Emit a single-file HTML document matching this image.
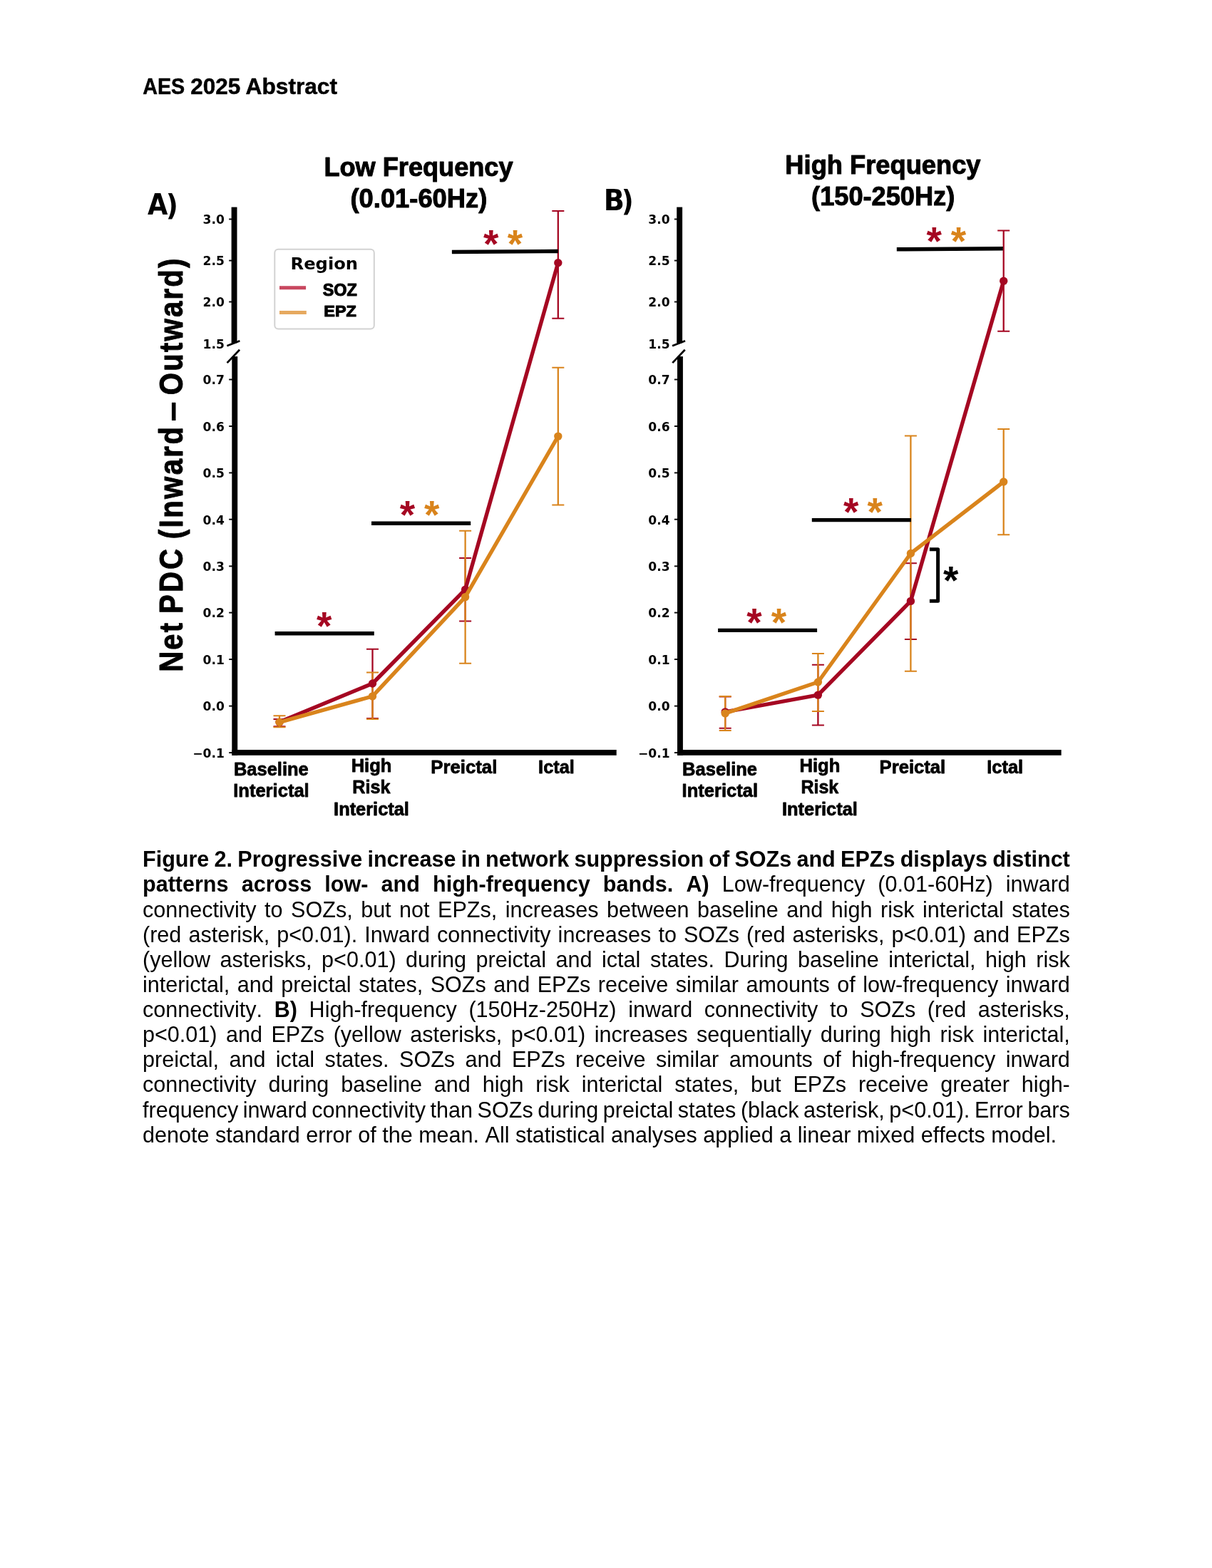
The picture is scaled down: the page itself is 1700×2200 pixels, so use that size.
<!DOCTYPE html>
<html lang="en"><head><meta charset="utf-8"><title>AES 2025 Abstract</title>
<style>
html,body{margin:0;padding:0;background:#fff}
body{width:1700px;height:2200px;position:relative;overflow:hidden;font-family:"Liberation Sans",sans-serif;color:#000}
#cap{position:absolute;left:200px;top:1188.3px;width:1300px;font-size:30.556px;line-height:35.14px;font-kerning:none}
.ln{white-space:nowrap;height:35.14px}
</style></head><body>
<svg width="1700" height="1170" viewBox="0 0 1700 1170" style="position:absolute;left:0;top:0;font-kerning:none">
<text font-family="'Liberation Sans',sans-serif" font-weight="bold" font-size="30.8" stroke="#000" stroke-width="0.5" stroke-linejoin="round"><tspan x="200.23" y="131.9" textLength="59.04" lengthAdjust="spacingAndGlyphs">AES</tspan> <tspan x="267.36" y="131.9" textLength="69.97" lengthAdjust="spacingAndGlyphs">2025</tspan> <tspan x="344.56" y="131.9" textLength="128.48" lengthAdjust="spacingAndGlyphs">Abstract</tspan></text>
<rect x="324.6" y="290.6" width="7.9" height="190.7"/><rect x="325.3" y="500.1" width="7.9" height="559.7"/><rect x="325.3" y="1052" width="539.4" height="7.8"/><path d="M318.35 485.2L336.35 478.3" stroke="#000" stroke-width="2.7"/><path d="M318.55 509.1L336.05 490.8" stroke="#000" stroke-width="2.7"/><path d="M321.2 307.5H326.3" stroke="#000" stroke-width="1.9"/><text x="314.8" y="314.3" text-anchor="end" font-family="'DejaVu Sans',sans-serif" font-weight="bold" font-size="17.1">3.0</text>
<path d="M321.2 365.6H326.3" stroke="#000" stroke-width="1.9"/><text x="314.8" y="372.4" text-anchor="end" font-family="'DejaVu Sans',sans-serif" font-weight="bold" font-size="17.1">2.5</text>
<path d="M321.2 423.5H326.3" stroke="#000" stroke-width="1.9"/><text x="314.8" y="430.3" text-anchor="end" font-family="'DejaVu Sans',sans-serif" font-weight="bold" font-size="17.1">2.0</text>
<text x="314.8" y="488.8" text-anchor="end" font-family="'DejaVu Sans',sans-serif" font-weight="bold" font-size="17.1">1.5</text>
<path d="M321.2 532.5H326.3" stroke="#000" stroke-width="1.9"/><text x="314.8" y="539.3" text-anchor="end" font-family="'DejaVu Sans',sans-serif" font-weight="bold" font-size="17.1">0.7</text>
<path d="M321.2 598H326.3" stroke="#000" stroke-width="1.9"/><text x="314.8" y="604.8" text-anchor="end" font-family="'DejaVu Sans',sans-serif" font-weight="bold" font-size="17.1">0.6</text>
<path d="M321.2 663.4H326.3" stroke="#000" stroke-width="1.9"/><text x="314.8" y="670.2" text-anchor="end" font-family="'DejaVu Sans',sans-serif" font-weight="bold" font-size="17.1">0.5</text>
<path d="M321.2 728.7H326.3" stroke="#000" stroke-width="1.9"/><text x="314.8" y="735.5" text-anchor="end" font-family="'DejaVu Sans',sans-serif" font-weight="bold" font-size="17.1">0.4</text>
<path d="M321.2 794.4H326.3" stroke="#000" stroke-width="1.9"/><text x="314.8" y="801.2" text-anchor="end" font-family="'DejaVu Sans',sans-serif" font-weight="bold" font-size="17.1">0.3</text>
<path d="M321.2 859.6H326.3" stroke="#000" stroke-width="1.9"/><text x="314.8" y="866.4" text-anchor="end" font-family="'DejaVu Sans',sans-serif" font-weight="bold" font-size="17.1">0.2</text>
<path d="M321.2 925.1H326.3" stroke="#000" stroke-width="1.9"/><text x="314.8" y="931.9" text-anchor="end" font-family="'DejaVu Sans',sans-serif" font-weight="bold" font-size="17.1">0.1</text>
<path d="M321.2 990.6H326.3" stroke="#000" stroke-width="1.9"/><text x="314.8" y="997.4" text-anchor="end" font-family="'DejaVu Sans',sans-serif" font-weight="bold" font-size="17.1">0.0</text>
<path d="M321.2 1056.1H326.3" stroke="#000" stroke-width="1.9"/><text x="314.8" y="1062.9" text-anchor="end" font-family="'DejaVu Sans',sans-serif" font-weight="bold" font-size="17.1">−0.1</text>

<path d="M392 1008.9V1019.3" stroke="#A50722" stroke-width="2.3" fill="none"/><path d="M383.5 1008.9H400.5M383.5 1019.3H400.5" stroke="#A50722" stroke-width="2" fill="none"/>
<path d="M522.5 910.8V1008" stroke="#A50722" stroke-width="2.3" fill="none"/><path d="M514 910.8H531M514 1008H531" stroke="#A50722" stroke-width="2" fill="none"/>
<path d="M652.6 783V871.5" stroke="#A50722" stroke-width="2.3" fill="none"/><path d="M644.1 783H661.1M644.1 871.5H661.1" stroke="#A50722" stroke-width="2" fill="none"/>
<path d="M782.8 296V446.8" stroke="#A50722" stroke-width="2.3" fill="none"/><path d="M774.3 296H791.3M774.3 446.8H791.3" stroke="#A50722" stroke-width="2" fill="none"/>
<path d="M392 1004.3V1020.2" stroke="#D9841C" stroke-width="2.3" fill="none"/><path d="M383.5 1004.3H400.5M383.5 1020.2H400.5" stroke="#D9841C" stroke-width="2" fill="none"/>
<path d="M522.5 943.6V1008.9" stroke="#D9841C" stroke-width="2.3" fill="none"/><path d="M514 943.6H531M514 1008.9H531" stroke="#D9841C" stroke-width="2" fill="none"/>
<path d="M652.6 744.7V930.8" stroke="#D9841C" stroke-width="2.3" fill="none"/><path d="M644.1 744.7H661.1M644.1 930.8H661.1" stroke="#D9841C" stroke-width="2" fill="none"/>
<path d="M782.8 515.7V708.5" stroke="#D9841C" stroke-width="2.3" fill="none"/><path d="M774.3 515.7H791.3M774.3 708.5H791.3" stroke="#D9841C" stroke-width="2" fill="none"/>
<path d="M392 1013.1L522.5 959L652.6 827.2L782.8 368.7" stroke="#A50722" stroke-width="5.4" fill="none" stroke-linejoin="round" stroke-linecap="round"/><circle cx="392" cy="1013.1" r="5.7" fill="#A50722"/><circle cx="522.5" cy="959" r="5.7" fill="#A50722"/><circle cx="652.6" cy="827.2" r="5.7" fill="#A50722"/><circle cx="782.8" cy="368.7" r="5.7" fill="#A50722"/>
<path d="M392 1013.3L522.5 976.9L652.6 837.6L782.8 612.1" stroke="#D9841C" stroke-width="5.4" fill="none" stroke-linejoin="round" stroke-linecap="round"/><circle cx="392" cy="1013.3" r="5.7" fill="#D9841C"/><circle cx="522.5" cy="976.9" r="5.7" fill="#D9841C"/><circle cx="652.6" cy="837.6" r="5.7" fill="#D9841C"/><circle cx="782.8" cy="612.1" r="5.7" fill="#D9841C"/>
<path d="M385.6 888.8L524.8 888.8" stroke="#000" stroke-width="5.4" fill="none"/>
<text x="454.7" y="897.17" fill="#A50722" font-family="'Liberation Sans',sans-serif" font-weight="bold" font-size="55" text-anchor="middle">*</text>
<path d="M521 734.2L660.2 734.2" stroke="#000" stroke-width="5.4" fill="none"/>
<text x="571.4" y="741.27" fill="#A50722" font-family="'Liberation Sans',sans-serif" font-weight="bold" font-size="55" text-anchor="middle">*</text>
<text x="605.8" y="741.27" fill="#D9841C" font-family="'Liberation Sans',sans-serif" font-weight="bold" font-size="55" text-anchor="middle">*</text>
<path d="M633.9 353.55L783 352.45" stroke="#000" stroke-width="5.4" fill="none"/>
<text x="688.7" y="360.97" fill="#A50722" font-family="'Liberation Sans',sans-serif" font-weight="bold" font-size="55" text-anchor="middle">*</text>
<text x="722.4" y="360.97" fill="#D9841C" font-family="'Liberation Sans',sans-serif" font-weight="bold" font-size="55" text-anchor="middle">*</text>
<text x="327.89" y="1087.6" font-family="'Liberation Sans',sans-serif" font-weight="bold" font-size="26.2" textLength="104.88" lengthAdjust="spacingAndGlyphs" stroke="#000" stroke-width="0.8" stroke-linejoin="round">Baseline</text>
<text x="327.19" y="1117.9" font-family="'Liberation Sans',sans-serif" font-weight="bold" font-size="26.2" textLength="106.52" lengthAdjust="spacingAndGlyphs" stroke="#000" stroke-width="0.8" stroke-linejoin="round">Interictal</text>
<text x="492.69" y="1082.7" font-family="'Liberation Sans',sans-serif" font-weight="bold" font-size="26.2" textLength="56.69" lengthAdjust="spacingAndGlyphs" stroke="#000" stroke-width="0.8" stroke-linejoin="round">High</text>
<text x="494.32" y="1113.4" font-family="'Liberation Sans',sans-serif" font-weight="bold" font-size="26.2" textLength="53.06" lengthAdjust="spacingAndGlyphs" stroke="#000" stroke-width="0.8" stroke-linejoin="round">Risk</text>
<text x="468.1" y="1143.8" font-family="'Liberation Sans',sans-serif" font-weight="bold" font-size="26.2" textLength="105.8" lengthAdjust="spacingAndGlyphs" stroke="#000" stroke-width="0.8" stroke-linejoin="round">Interictal</text>
<text x="604.28" y="1084.8" font-family="'Liberation Sans',sans-serif" font-weight="bold" font-size="26.2" textLength="93.05" lengthAdjust="spacingAndGlyphs" stroke="#000" stroke-width="0.8" stroke-linejoin="round">Preictal</text>
<text x="755.11" y="1084.8" font-family="'Liberation Sans',sans-serif" font-weight="bold" font-size="26.2" textLength="50.69" lengthAdjust="spacingAndGlyphs" stroke="#000" stroke-width="0.8" stroke-linejoin="round">Ictal</text>
<rect x="385.3" y="349.7" width="139.5" height="111.8" rx="5" ry="5" fill="#fff" stroke="#d2d2d2" stroke-width="2"/>
<text x="407.58" y="377.8" font-family="'DejaVu Sans',sans-serif" font-weight="bold" font-size="23.6" textLength="94.51" lengthAdjust="spacingAndGlyphs">Region</text>
<path d="M392 403.7H429.1" stroke="#C8475F" stroke-width="5"/>
<path d="M392 438.6H429.8" stroke="#E6A95F" stroke-width="5"/>
<text x="452.78" y="415.4" font-family="'Liberation Sans',sans-serif" font-weight="bold" font-size="23.2" textLength="48.05" lengthAdjust="spacingAndGlyphs" stroke="#000" stroke-width="1.1" stroke-linejoin="round">SOZ</text>
<text x="454.38" y="444" font-family="'Liberation Sans',sans-serif" font-weight="bold" font-size="22.6" textLength="45.54" lengthAdjust="spacingAndGlyphs" stroke="#000" stroke-width="1.1" stroke-linejoin="round">EPZ</text>
<text x="454.38" y="246.6" font-family="'Liberation Sans',sans-serif" font-weight="bold" font-size="37.2" textLength="265.21" lengthAdjust="spacingAndGlyphs" stroke="#000" stroke-width="1.0" stroke-linejoin="round">Low Frequency</text>
<text x="491.49" y="291.2" font-family="'Liberation Sans',sans-serif" font-weight="bold" font-size="37.2" textLength="191.82" lengthAdjust="spacingAndGlyphs" stroke="#000" stroke-width="1.0" stroke-linejoin="round">(0.01-60Hz)</text>
<text x="1101.37" y="243.9" font-family="'Liberation Sans',sans-serif" font-weight="bold" font-size="37.2" textLength="274.12" lengthAdjust="spacingAndGlyphs" stroke="#000" stroke-width="1.0" stroke-linejoin="round">High Frequency</text>
<text x="1138.1" y="288.3" font-family="'Liberation Sans',sans-serif" font-weight="bold" font-size="37.2" textLength="201.1" lengthAdjust="spacingAndGlyphs" stroke="#000" stroke-width="1.0" stroke-linejoin="round">(150-250Hz)</text>
<text font-family="'DejaVu Sans Condensed','DejaVu Sans',sans-serif" font-weight="bold" font-size="40.6"><tspan x="207.02" y="300.7" textLength="28.34" lengthAdjust="spacingAndGlyphs">A</tspan><tspan x="232.79" y="301.9" textLength="17.12" lengthAdjust="spacingAndGlyphs">)</tspan></text>
<text font-family="'DejaVu Sans Condensed','DejaVu Sans',sans-serif" font-weight="bold" font-size="40.6"><tspan x="846.89" y="294.5" textLength="29.2" lengthAdjust="spacingAndGlyphs">B</tspan><tspan x="871.82" y="295.7" textLength="16.97" lengthAdjust="spacingAndGlyphs">)</tspan></text>
<g transform="translate(256.2 940.7) rotate(-90) scale(0.87 1)"><text font-family="'Liberation Sans',sans-serif" font-weight="bold" font-size="46" stroke="#000" stroke-width="1.0" stroke-linejoin="round"><tspan x="-2.5" y="0" style="letter-spacing:2.517px">Net</tspan> <tspan x="91.75" y="0" style="letter-spacing:3.664px">PDC</tspan> <tspan x="212.08" y="0" style="letter-spacing:2.823px">(Inward</tspan> <tspan x="401.97" y="0" textLength="31.37" lengthAdjust="spacingAndGlyphs">–</tspan> <tspan x="444.32" y="0" style="letter-spacing:2.594px">Outward)</tspan></text></g>
<rect x="949.2" y="290.6" width="7.9" height="190.7"/><rect x="950" y="500.1" width="7.9" height="559.7"/><rect x="950" y="1052" width="538.6" height="7.8"/><path d="M943.05 485.2L961.05 478.3" stroke="#000" stroke-width="2.7"/><path d="M943.25 509.1L960.75 490.8" stroke="#000" stroke-width="2.7"/><path d="M945.9 307.5H951" stroke="#000" stroke-width="1.9"/><text x="939.6" y="314.3" text-anchor="end" font-family="'DejaVu Sans',sans-serif" font-weight="bold" font-size="17.1">3.0</text>
<path d="M945.9 365.6H951" stroke="#000" stroke-width="1.9"/><text x="939.6" y="372.4" text-anchor="end" font-family="'DejaVu Sans',sans-serif" font-weight="bold" font-size="17.1">2.5</text>
<path d="M945.9 423.5H951" stroke="#000" stroke-width="1.9"/><text x="939.6" y="430.3" text-anchor="end" font-family="'DejaVu Sans',sans-serif" font-weight="bold" font-size="17.1">2.0</text>
<text x="939.6" y="488.8" text-anchor="end" font-family="'DejaVu Sans',sans-serif" font-weight="bold" font-size="17.1">1.5</text>
<path d="M945.9 532.5H951" stroke="#000" stroke-width="1.9"/><text x="939.6" y="539.3" text-anchor="end" font-family="'DejaVu Sans',sans-serif" font-weight="bold" font-size="17.1">0.7</text>
<path d="M945.9 598H951" stroke="#000" stroke-width="1.9"/><text x="939.6" y="604.8" text-anchor="end" font-family="'DejaVu Sans',sans-serif" font-weight="bold" font-size="17.1">0.6</text>
<path d="M945.9 663.4H951" stroke="#000" stroke-width="1.9"/><text x="939.6" y="670.2" text-anchor="end" font-family="'DejaVu Sans',sans-serif" font-weight="bold" font-size="17.1">0.5</text>
<path d="M945.9 728.7H951" stroke="#000" stroke-width="1.9"/><text x="939.6" y="735.5" text-anchor="end" font-family="'DejaVu Sans',sans-serif" font-weight="bold" font-size="17.1">0.4</text>
<path d="M945.9 794.4H951" stroke="#000" stroke-width="1.9"/><text x="939.6" y="801.2" text-anchor="end" font-family="'DejaVu Sans',sans-serif" font-weight="bold" font-size="17.1">0.3</text>
<path d="M945.9 859.6H951" stroke="#000" stroke-width="1.9"/><text x="939.6" y="866.4" text-anchor="end" font-family="'DejaVu Sans',sans-serif" font-weight="bold" font-size="17.1">0.2</text>
<path d="M945.9 925.1H951" stroke="#000" stroke-width="1.9"/><text x="939.6" y="931.9" text-anchor="end" font-family="'DejaVu Sans',sans-serif" font-weight="bold" font-size="17.1">0.1</text>
<path d="M945.9 990.6H951" stroke="#000" stroke-width="1.9"/><text x="939.6" y="997.4" text-anchor="end" font-family="'DejaVu Sans',sans-serif" font-weight="bold" font-size="17.1">0.0</text>
<path d="M945.9 1056.1H951" stroke="#000" stroke-width="1.9"/><text x="939.6" y="1062.9" text-anchor="end" font-family="'DejaVu Sans',sans-serif" font-weight="bold" font-size="17.1">−0.1</text>

<path d="M1017.2 977.5V1021.8" stroke="#A50722" stroke-width="2.3" fill="none"/><path d="M1008.7 977.5H1025.7M1008.7 1021.8H1025.7" stroke="#A50722" stroke-width="2" fill="none"/>
<path d="M1147.4 932.8V1017.4" stroke="#A50722" stroke-width="2.3" fill="none"/><path d="M1138.9 932.8H1155.9M1138.9 1017.4H1155.9" stroke="#A50722" stroke-width="2" fill="none"/>
<path d="M1277.4 790.2V896.9" stroke="#A50722" stroke-width="2.3" fill="none"/><path d="M1268.9 790.2H1285.9M1268.9 896.9H1285.9" stroke="#A50722" stroke-width="2" fill="none"/>
<path d="M1407.7 323.5V464.7" stroke="#A50722" stroke-width="2.3" fill="none"/><path d="M1399.2 323.5H1416.2M1399.2 464.7H1416.2" stroke="#A50722" stroke-width="2" fill="none"/>
<path d="M1017.2 977.1V1025" stroke="#D9841C" stroke-width="2.3" fill="none"/><path d="M1008.7 977.1H1025.7M1008.7 1025H1025.7" stroke="#D9841C" stroke-width="2" fill="none"/>
<path d="M1147.4 917.1V998" stroke="#D9841C" stroke-width="2.3" fill="none"/><path d="M1138.9 917.1H1155.9M1138.9 998H1155.9" stroke="#D9841C" stroke-width="2" fill="none"/>
<path d="M1277.4 611.6V941.7" stroke="#D9841C" stroke-width="2.3" fill="none"/><path d="M1268.9 611.6H1285.9M1268.9 941.7H1285.9" stroke="#D9841C" stroke-width="2" fill="none"/>
<path d="M1407.7 602.1V750.3" stroke="#D9841C" stroke-width="2.3" fill="none"/><path d="M1399.2 602.1H1416.2M1399.2 750.3H1416.2" stroke="#D9841C" stroke-width="2" fill="none"/>
<path d="M1017.2 998.9L1147.4 975.1L1277.4 843.4L1407.7 394.3" stroke="#A50722" stroke-width="5.4" fill="none" stroke-linejoin="round" stroke-linecap="round"/><circle cx="1017.2" cy="998.9" r="5.7" fill="#A50722"/><circle cx="1147.4" cy="975.1" r="5.7" fill="#A50722"/><circle cx="1277.4" cy="843.4" r="5.7" fill="#A50722"/><circle cx="1407.7" cy="394.3" r="5.7" fill="#A50722"/>
<path d="M1017.2 1000.9L1147.4 957L1277.4 776.5L1407.7 676" stroke="#D9841C" stroke-width="5.4" fill="none" stroke-linejoin="round" stroke-linecap="round"/><circle cx="1017.2" cy="1000.9" r="5.7" fill="#D9841C"/><circle cx="1147.4" cy="957" r="5.7" fill="#D9841C"/><circle cx="1277.4" cy="776.5" r="5.7" fill="#D9841C"/><circle cx="1407.7" cy="676" r="5.7" fill="#D9841C"/>
<path d="M1007.1 884.4L1146.1 884.4" stroke="#000" stroke-width="5.4" fill="none"/>
<text x="1058" y="892.17" fill="#A50722" font-family="'Liberation Sans',sans-serif" font-weight="bold" font-size="55" text-anchor="middle">*</text>
<text x="1092.4" y="892.17" fill="#D9841C" font-family="'Liberation Sans',sans-serif" font-weight="bold" font-size="55" text-anchor="middle">*</text>
<path d="M1138.8 729.6L1278 729.6" stroke="#000" stroke-width="5.4" fill="none"/>
<text x="1193.6" y="737.38" fill="#A50722" font-family="'Liberation Sans',sans-serif" font-weight="bold" font-size="55" text-anchor="middle">*</text>
<text x="1227.2" y="737.38" fill="#D9841C" font-family="'Liberation Sans',sans-serif" font-weight="bold" font-size="55" text-anchor="middle">*</text>
<path d="M1257.8 349.8L1406.8 348.8" stroke="#000" stroke-width="5.4" fill="none"/>
<text x="1310.2" y="357.17" fill="#A50722" font-family="'Liberation Sans',sans-serif" font-weight="bold" font-size="55" text-anchor="middle">*</text>
<text x="1344.4" y="357.17" fill="#D9841C" font-family="'Liberation Sans',sans-serif" font-weight="bold" font-size="55" text-anchor="middle">*</text>
<path d="M1303.9 770.8H1315.6V843.3H1303.9" stroke="#000" stroke-width="5" fill="none" stroke-linejoin="round"/>
<text x="1333.8" y="833.27" fill="#000" font-family="'Liberation Sans',sans-serif" font-weight="bold" font-size="55" text-anchor="middle">*</text>
<text x="957.09" y="1087.6" font-family="'Liberation Sans',sans-serif" font-weight="bold" font-size="26.2" textLength="104.98" lengthAdjust="spacingAndGlyphs" stroke="#000" stroke-width="0.8" stroke-linejoin="round">Baseline</text>
<text x="956.59" y="1118" font-family="'Liberation Sans',sans-serif" font-weight="bold" font-size="26.2" textLength="106.42" lengthAdjust="spacingAndGlyphs" stroke="#000" stroke-width="0.8" stroke-linejoin="round">Interictal</text>
<text x="1121.49" y="1082.8" font-family="'Liberation Sans',sans-serif" font-weight="bold" font-size="26.2" textLength="56.9" lengthAdjust="spacingAndGlyphs" stroke="#000" stroke-width="0.8" stroke-linejoin="round">High</text>
<text x="1123.43" y="1113.2" font-family="'Liberation Sans',sans-serif" font-weight="bold" font-size="26.2" textLength="52.85" lengthAdjust="spacingAndGlyphs" stroke="#000" stroke-width="0.8" stroke-linejoin="round">Risk</text>
<text x="1097" y="1143.6" font-family="'Liberation Sans',sans-serif" font-weight="bold" font-size="26.2" textLength="105.9" lengthAdjust="spacingAndGlyphs" stroke="#000" stroke-width="0.8" stroke-linejoin="round">Interictal</text>
<text x="1233.59" y="1085" font-family="'Liberation Sans',sans-serif" font-weight="bold" font-size="26.2" textLength="92.63" lengthAdjust="spacingAndGlyphs" stroke="#000" stroke-width="0.8" stroke-linejoin="round">Preictal</text>
<text x="1384.3" y="1085" font-family="'Liberation Sans',sans-serif" font-weight="bold" font-size="26.2" textLength="50.8" lengthAdjust="spacingAndGlyphs" stroke="#000" stroke-width="0.8" stroke-linejoin="round">Ictal</text>
</svg>
<div id="cap">
<div class="ln" style="word-spacing:-1.234px"><b>Figure 2. Progressive increase in network suppression of SOZs and EPZs displays distinct</b></div>
<div class="ln" style="word-spacing:9.674px"><b>patterns across low- and high-frequency bands. A)</b> Low-frequency (0.01-60Hz) inward</div>
<div class="ln" style="word-spacing:3.019px">connectivity to SOZs, but not EPZs, increases between baseline and high risk interictal states</div>
<div class="ln" style="word-spacing:1.581px">(red asterisk, p&lt;0.01). Inward connectivity increases to SOZs (red asterisks, p&lt;0.01) and EPZs</div>
<div class="ln" style="word-spacing:5.043px">(yellow asterisks, p&lt;0.01) during preictal and ictal states. During baseline interictal, high risk</div>
<div class="ln" style="word-spacing:2.007px">interictal, and preictal states, SOZs and EPZs receive similar amounts of low-frequency inward</div>
<div class="ln" style="word-spacing:8.153px">connectivity. <b>B)</b> High-frequency (150Hz-250Hz) inward connectivity to SOZs (red asterisks,</div>
<div class="ln" style="word-spacing:4.033px">p&lt;0.01) and EPZs (yellow asterisks, p&lt;0.01) increases sequentially during high risk interictal,</div>
<div class="ln" style="word-spacing:5.966px">preictal, and ictal states. SOZs and EPZs receive similar amounts of high-frequency inward</div>
<div class="ln" style="word-spacing:8.364px">connectivity during baseline and high risk interictal states, but EPZs receive greater high-</div>
<div class="ln" style="word-spacing:-1.886px">frequency inward connectivity than SOZs during preictal states (black asterisk, p&lt;0.01). Error bars</div>
<div class="ln" style="word-spacing:0px">denote standard error of the mean. All statistical analyses applied a linear mixed effects model.</div>
</div>
</body></html>
